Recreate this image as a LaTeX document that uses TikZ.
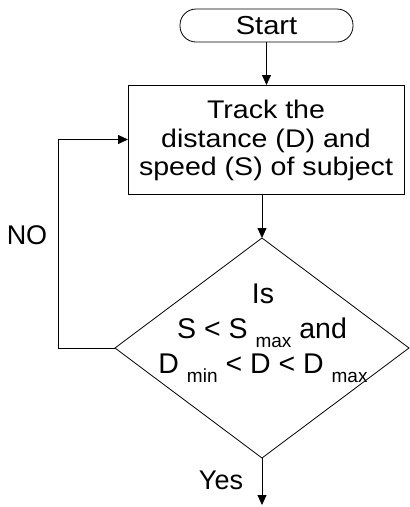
\documentclass[tikz,border=0pt]{standalone}
\usepackage{fontspec}
\setmainfont{Liberation Sans}
\newfontfamily\widefont[FakeStretch=1.12]{Liberation Sans}
\usetikzlibrary{shapes.geometric,arrows.meta}
\newcommand\lowsub[1]{\raisebox{-9pt}{\fontsize{19}{19}\selectfont #1}}
\begin{document}
\begin{tikzpicture}[x=1pt,y=-1pt,
  line width=0.8pt,
  every node/.style={inner sep=0pt, outer sep=0pt},
  flow/.style={-{Triangle[length=10pt,width=9pt]}},
  terminal/.style={draw, rounded corners=16pt, minimum width=173pt, minimum height=33pt,
    font=\widefont\fontsize{26}{28}\selectfont},
  process/.style={draw, minimum width=276pt, minimum height=109pt},
  decision/.style={draw, diamond, minimum width=294pt, minimum height=220pt},
  boxtxt/.style={font=\widefont\fontsize{25.5}{28}\selectfont, anchor=base},
  dtxt/.style={font=\fontsize{28.5}{30}\selectfont, anchor=base},
  lbl/.style={font=\fontsize{27}{29}\selectfont},
]
\useasboundingbox (0,0) rectangle (410,507);

% shapes
\node[terminal] (start) at (266.5,25.5) {Start};
\node[process] (track) at (266,139.5) {};
\node[decision] (dec) at (262,348) {};

% text of the process box
\node[boxtxt] (t1) at (266,118) {Track the};
\node[boxtxt] (t2) at (266,147) {distance (D) and};
\node[boxtxt] (t3) at (266,175) {speed (S) of subject};

% text of the decision
\node[dtxt] (d1) at (263,303) {Is};
\node[dtxt] (d2) at (262,338) {S < S \lowsub{max} and};
\node[dtxt] (d3) at (263,373) {D \lowsub{min} < D < D \lowsub{max}};

% branch labels
\node[lbl] (no) at (27,235) {NO};
\node[lbl] (yes) at (221,480) {Yes};

% connectors
\coordinate (loop) at (58,348);
\coordinate (out) at (262,505);
\draw[flow] (start.south) -- (start.south |- track.north);
\draw[flow] (track.south -| dec.north) -- (dec.north);
\draw[flow] (dec.west) -- (loop) |- (track.west);
\draw[flow] (dec.south) -- (out);
\end{tikzpicture}
\end{document}
